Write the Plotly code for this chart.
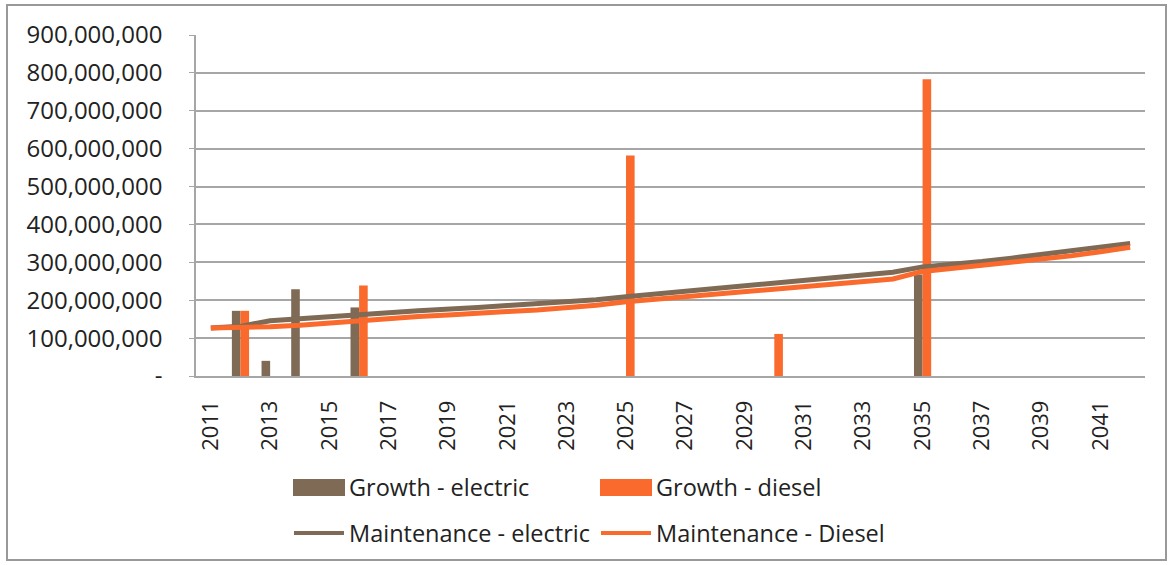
import plotly.graph_objects as go

years = [str(y) for y in range(2011, 2043)]

growth_electric = [None, 172e6, 40e6, 229e6, None, 181e6] + [None] * 18 + [268e6] + [None] * 7
growth_diesel = [None, 172e6, None, None, None, 239e6] + [None] * 8 + [582e6] + [None] * 4 + [111e6] + [None] * 4 + [783e6] + [None] * 7

maint_electric = [127e6, 131e6, 146e6, 152e6, 156e6, 163e6, 167e6, 172e6, 178e6, 181e6,
                  186e6, 190e6, 194e6, 201e6, 209e6, 216e6, 223e6, 230e6, 237e6, 244e6,
                  251e6, 260e6, 267e6, 274e6, 288e6, 294e6, 302e6, 311e6, 320e6, 329e6,
                  338e6, 350e6]
maint_diesel = [127e6, 128e6, 130e6, 134e6, 140e6, 147e6, 152e6, 157e6, 161e6, 164e6,
                170e6, 174e6, 180e6, 187e6, 196e6, 203e6, 209e6, 215e6, 221e6, 228e6,
                235e6, 242e6, 249e6, 256e6, 276e6, 284e6, 292e6, 300e6, 308e6, 317e6,
                328e6, 340e6]

y_ticks = [0, 100e6, 200e6, 300e6, 400e6, 500e6, 600e6, 700e6, 800e6, 900e6]
y_ticktext = ["-", "100,000,000", "200,000,000", "300,000,000", "400,000,000",
              "500,000,000", "600,000,000", "700,000,000", "800,000,000", "900,000,000"]
x_ticks = [str(y) for y in range(2011, 2043, 2)]

series_names = ["Growth - electric", "Growth - diesel", "Maintenance - electric", "Maintenance - Diesel"]

BROWN = "#7F6A55"
ORANGE = "#F96A2C"
FONT = "Open Sans"
TXT = "#222222"

L, R, T, B = 196, 28, 35, 189
W, H = 1173, 565
PW, PH = W - L - R, H - T - B


def px(x):
    return (x - L) / PW


def py(y):
    return (H - B - y) / PH


fig = go.Figure()
fig.add_trace(go.Bar(x=years, y=growth_electric, name=series_names[0],
                     marker=dict(color=BROWN, line=dict(width=0))))
fig.add_trace(go.Bar(x=years, y=growth_diesel, name=series_names[1],
                     marker=dict(color=ORANGE, line=dict(width=0))))
fig.add_trace(go.Scatter(x=years, y=maint_electric, name=series_names[2], mode="lines",
                         line=dict(color=BROWN, width=5)))
fig.add_trace(go.Scatter(x=years, y=maint_diesel, name=series_names[3], mode="lines",
                         line=dict(color=ORANGE, width=5)))

# legend drawn manually (wide swatches like the original)
shapes = [dict(type="rect", xref="paper", yref="paper",
               x0=px(7), x1=px(1166), y0=py(560), y1=py(5),
               line=dict(color="#999999", width=2), fillcolor="rgba(0,0,0,0)", layer="below")]
annotations = []
legend_items = [
    (series_names[0], BROWN, "bar", 293, 487),
    (series_names[1], ORANGE, "bar", 600, 487),
    (series_names[2], BROWN, "line", 293, 533),
    (series_names[3], ORANGE, "line", 600, 533),
]
for name, color, kind, x0, yc in legend_items:
    if kind == "bar":
        shapes.append(dict(type="rect", xref="paper", yref="paper",
                           x0=px(x0), x1=px(x0 + 52), y0=py(yc + 9), y1=py(yc - 8),
                           line=dict(width=0), fillcolor=color))
    else:
        shapes.append(dict(type="line", xref="paper", yref="paper",
                           x0=px(x0 + 1), x1=px(x0 + 51), y0=py(yc), y1=py(yc),
                           line=dict(color=color, width=4)))
    annotations.append(dict(text=name, xref="paper", yref="paper", x=px(x0 + 54), y=py(yc),
                            xanchor="left", yanchor="middle", showarrow=False,
                            font=dict(family=FONT, size=23.5, color=TXT)))

fig.update_layout(
    width=W, height=H,
    margin=dict(l=L, r=R, t=T, b=B),
    paper_bgcolor="white", plot_bgcolor="white",
    barmode="group", bargap=0.42, bargroupgap=0,
    showlegend=False,
    font=dict(family=FONT, color=TXT),
    xaxis=dict(type="category", tickmode="array", tickvals=x_ticks, ticktext=x_ticks,
               tickangle=-90, tickfont=dict(family=FONT, size=22, color=TXT),
               showgrid=False, showline=True, linecolor="#A6A6A6", linewidth=1.5,
               ticks="", ticklabelstandoff=14),
    yaxis=dict(range=[0, 900e6], tickmode="array", tickvals=y_ticks, ticktext=y_ticktext,
               tickfont=dict(family=FONT, size=24, color=TXT),
               showgrid=True, gridcolor="#A6A6A6", gridwidth=1.5,
               showline=True, linecolor="#A6A6A6", linewidth=1.5,
               ticks="outside", ticklen=5, tickcolor="#A6A6A6",
               ticklabelstandoff=22, zeroline=False),
    shapes=shapes,
    annotations=annotations,
)

fig.write_html("out.html")
